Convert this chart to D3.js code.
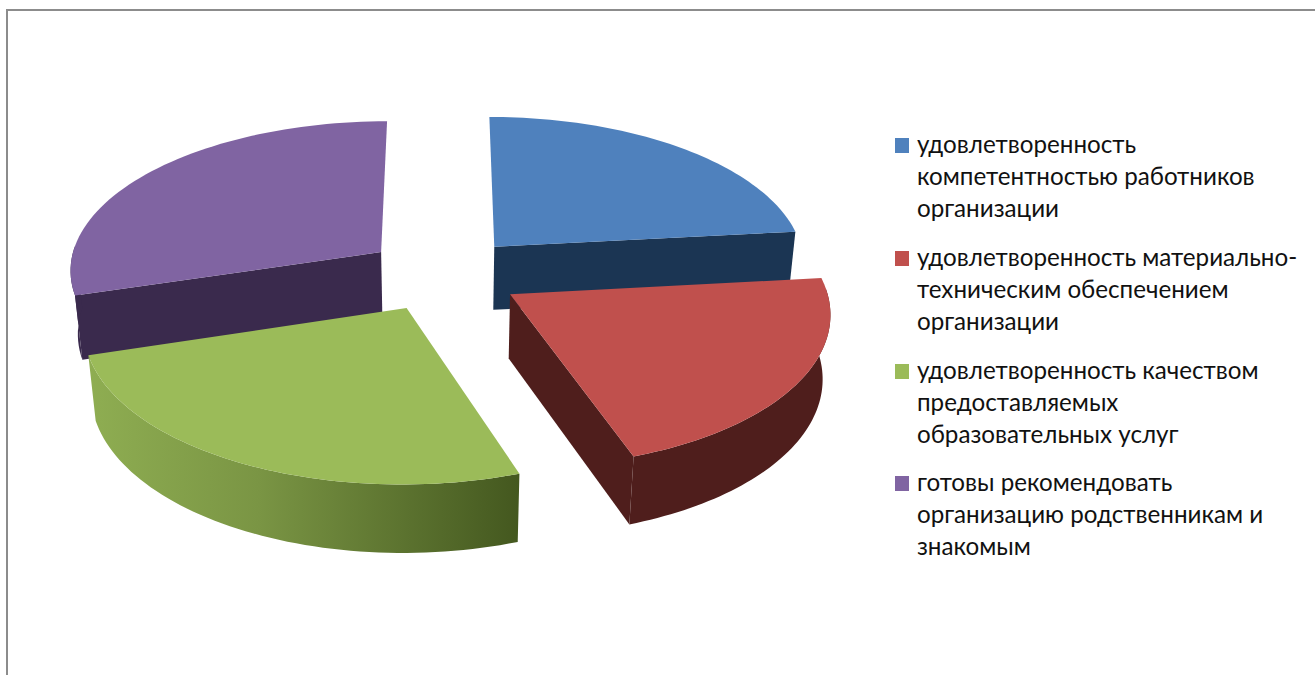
<!DOCTYPE html>
<html><head><meta charset="utf-8">
<script src="https://cdn.jsdelivr.net/npm/d3@7/dist/d3.min.js"></script>
<style>html,body{margin:0;padding:0;background:#fff}svg{display:block}</style></head>
<body><svg id="c" width="1315" height="675"></svg>
<script>
const categories = ["удовлетворенность компетентностью работников организации","удовлетворенность материально-техническим обеспечением организации","удовлетворенность качеством предоставляемых образовательных услуг","готовы рекомендовать организацию родственникам и знакомым"];
const values = [23.3, 21.4, 25.6, 29.7];
const legendLines = [["удовлетворенность","компетентностью работников","организации"],["удовлетворенность материально-","техническим обеспечением","организации"],["удовлетворенность качеством","предоставляемых","образовательных услуг"],["готовы рекомендовать","организацию родственникам и","знакомым"]];
const topColors = ["#4f81bd","#c0504d","#9bbb59","#8064a2"];
const wallColors = ["#1b3553","#4f1e1c","#8cab50","#3a2a4d"];
const faceColors = ["#1b3553","#4f1e1c","#44581f","#3a2a4d"];

const svg = d3.select("#c");
svg.append("path").attr("d","M7 675V10H1315").attr("fill","none").attr("stroke","#8c8c8c").attr("stroke-width",2);

const defs = svg.append("defs");
const g = defs.append("linearGradient").attr("id","gw").attr("gradientUnits","userSpaceOnUse").attr("x1",85).attr("x2",518).attr("y1",0).attr("y2",0);
g.append("stop").attr("offset",0).attr("stop-color","#8fae52");
g.append("stop").attr("offset",.4).attr("stop-color","#7a9544");
g.append("stop").attr("offset",1).attr("stop-color","#44581f");

// perspective projection of the pie
const cx=443, cy=274, A=313, B=149.4, H=65, k=.108, m=.02, ex=.25;
function proj(X,Z,h){ const d=1+k*Z+m*h; return [cx+A*X/d, cy+(-B*Z+H*h)/d]; }
const arcs = d3.pie().sort(null).startAngle(0).endAngle(2*Math.PI)(values);
const line = d3.line();
const slices = arcs.map((a,i)=>{
  const mid=(a.startAngle+a.endAngle)/2, ox=ex*Math.sin(mid), oz=ex*Math.cos(mid);
  const ang=d3.range(0,61).map(t=>a.startAngle+(a.endAngle-a.startAngle)*t/60);
  const rim=(h,list=ang)=>list.map(t=>proj(ox+Math.sin(t),oz+Math.cos(t),h));
  const apex=h=>proj(ox,oz,h);
  return {i,rim,apex,front:ang.filter(t=>Math.cos(t)<.06)};
});
const order=[0,3,1,2];
order.forEach(i=>{
  const s=slices[i], G=svg.append("g");
  const r0=s.rim(0), r1=s.rim(1), a0=s.apex(0), a1=s.apex(1), n=r0.length-1;
  const q0=[a0,r0[0],r1[0],a1], q1=[a0,r0[n],r1[n],a1];
  if(d3.polygonArea(q0)>1000) G.append("path").attr("d",line(q0)+"Z").attr("fill",faceColors[i]);
  if(d3.polygonArea(q1)<-1000) G.append("path").attr("d",line(q1)+"Z").attr("fill",faceColors[i]);
  const w0=s.rim(0,s.front), w1=s.rim(1,s.front);
  G.append("path").attr("d",line([...w0,...w1.slice().reverse()])+"Z").attr("fill",i===2?"url(#gw)":wallColors[i]);
  G.append("path").attr("d",line([a0,...r0])+"Z").attr("fill",topColors[i]);
});

// legend
const legendY=[146,259,372,484], lh=32;
legendLines.forEach((ls,i)=>{
  svg.append("rect").attr("x",895).attr("y",legendY[i]-8).attr("width",14).attr("height",15).attr("fill",topColors[i]);
  ls.forEach((t,j)=>svg.append("text").attr("x",917).attr("y",legendY[i]+j*lh+7).attr("font-family","Lato").attr("font-size",24.2).attr("fill","#111").text(t));
});
</script></body></html>
